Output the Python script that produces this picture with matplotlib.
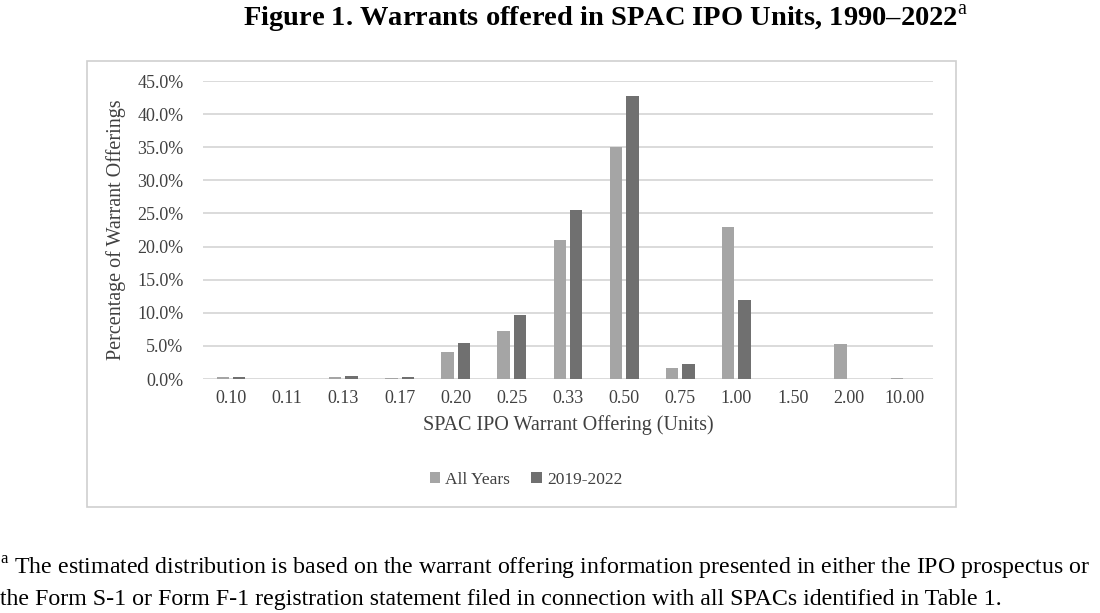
import matplotlib
matplotlib.use("Agg")
import matplotlib.pyplot as plt
import numpy as np
from matplotlib.patches import Rectangle

categories = ["0.10", "0.11", "0.13", "0.17", "0.20", "0.25", "0.33", "0.50",
              "0.75", "1.00", "1.50", "2.00", "10.00"]
all_years = [0.3, 0.0, 0.3, 0.2, 4.1, 7.2, 21.0, 35.1, 1.6, 23.0, 0.0, 5.3, 0.2]
recent = [0.3, 0.0, 0.5, 0.3, 5.4, 9.6, 25.5, 42.7, 2.2, 12.0, 0.0, 0.0, 0.0]
yticks = [0, 5, 10, 15, 20, 25, 30, 35, 40, 45]

plt.rcParams['font.family'] = ['Liberation Serif', 'DejaVu Serif']
plt.rcParams['mathtext.fontset'] = 'custom'
plt.rcParams['mathtext.rm'] = 'Liberation Serif'
plt.rcParams['mathtext.bf'] = 'Liberation Serif:bold'

fig = plt.figure(figsize=(11, 6.13), dpi=100)
ax = fig.add_axes([203/1100, 1-379/613, 730/1100, 298/613])

x = np.arange(len(categories))
w = 0.22
off = 0.146
ax.bar(x - off, all_years, width=w, color="#a5a5a5", label="All Years", zorder=3)
ax.bar(x + off, recent, width=w, color="#707070", label="2019-2022", zorder=3)

ax.set_xlim(-0.5, len(categories) - 0.5)
ax.set_ylim(0, 45)
ax.set_yticks(yticks)
ax.set_yticklabels([f"{v:.1f}%" for v in yticks], fontsize=13, color="#404040")
ax.set_xticks(x)
ax.set_xticklabels(categories, fontsize=13, color="#404040")
ax.tick_params(axis='both', length=0)
ax.tick_params(axis='y', pad=14)
ax.tick_params(axis='x', pad=8)
ax.grid(axis='y', color="#d4d4d4", linewidth=1.2, zorder=0)
for s in ax.spines.values():
    s.set_visible(False)

ax.set_ylabel("Percentage of Warrant Offerings", fontsize=14.5, color="#404040", labelpad=8)
ax.set_xlabel("SPAC IPO Warrant Offering (Units)", fontsize=14.5, color="#404040", labelpad=6)

leg = fig.legend(loc="center", bbox_to_anchor=(526/1100, 1-480/613), ncol=2, frameon=False,
                 fontsize=12.5, handlelength=0.6, handleheight=0.6, handletextpad=0.3,
                 columnspacing=1.2, labelcolor="#404040")

# chart border
fig.patches.append(Rectangle((87/1100, 1-507/613), (956-87)/1100, (507-61)/613,
                             transform=fig.transFigure, fill=False,
                             edgecolor="#cfcfcf", linewidth=1.2))

# title and footnote
fig.text(605/1100, 1-19/613, r"Figure 1. Warrants offered in SPAC IPO Units, 1990–2022$^{\mathrm{a}}$",
         ha="center", va="center", fontsize=20.5, fontweight="bold", color="black")
fig.text(0.0, 1-568/613,
         r"$^{\mathrm{a}}$ The estimated distribution is based on the warrant offering information presented in either the IPO prospectus or",
         ha="left", va="center", fontsize=17.2, color="black")
fig.text(0.0, 1-600/613,
         "the Form S-1 or Form F-1 registration statement filed in connection with all SPACs identified in Table 1.",
         ha="left", va="center", fontsize=17.2, color="black")

fig.savefig("out.png", dpi=100)
